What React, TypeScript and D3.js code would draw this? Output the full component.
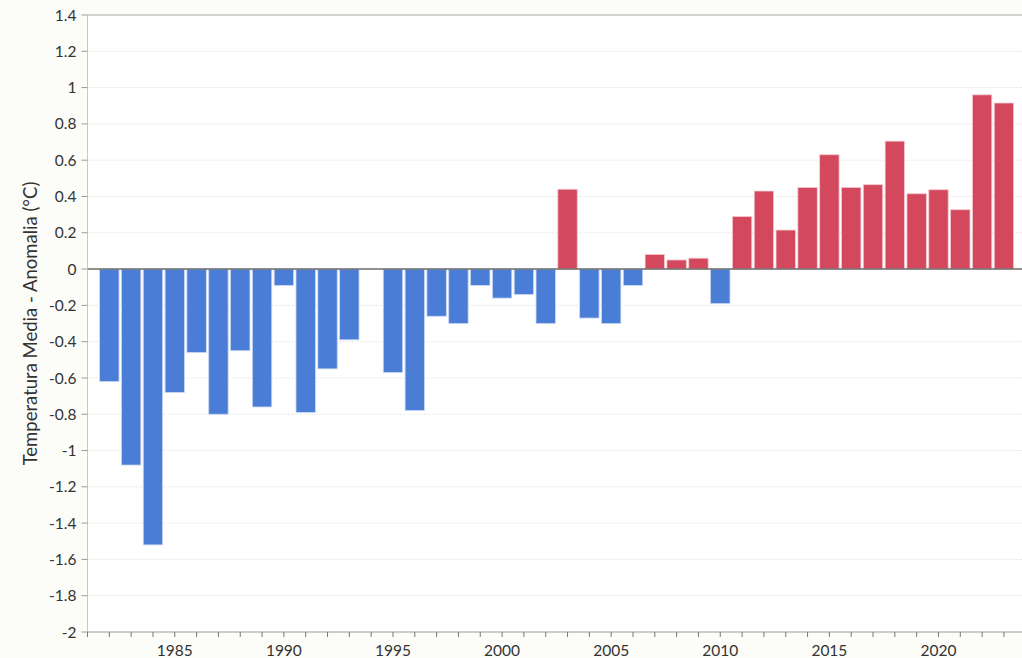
import React from "react";
import * as d3 from "d3";

const years: number[] = [
  1982, 1983, 1984, 1985, 1986, 1987, 1988, 1989, 1990, 1991, 1992, 1993,
  1995, 1996, 1997, 1998, 1999, 2000, 2001, 2002, 2003, 2004, 2005, 2006,
  2007, 2008, 2009, 2010, 2011, 2012, 2013, 2014, 2015, 2016, 2017, 2018,
  2019, 2020, 2021, 2022, 2023,
];
const anomalies: number[] = [
  -0.62, -1.08, -1.52, -0.68, -0.46, -0.8, -0.45, -0.76, -0.09, -0.79, -0.55, -0.39,
  -0.57, -0.78, -0.26, -0.3, -0.09, -0.16, -0.14, -0.3, 0.44, -0.27, -0.3, -0.09,
  0.08, 0.05, 0.06, -0.19, 0.29, 0.43, 0.215, 0.45, 0.63, 0.45, 0.465, 0.705,
  0.415, 0.437, 0.327, 0.96, 0.915,
];
const yTicks: number[] = [1.4, 1.2, 1, 0.8, 0.6, 0.4, 0.2, 0, -0.2, -0.4, -0.6, -0.8, -1, -1.2, -1.4, -1.6, -1.8, -2];
const xLabelYears: number[] = [1985, 1990, 1995, 2000, 2005, 2010, 2015, 2020];
const xTickYears: number[] = d3.range(1981, 2025);
const yTitle = "Temperatura Media - Anomalia (°C)";

const W = 1022;
const H = 658;
const left = 87.5;
const top = 15;
const bottom = 632;
const yearStep = 21.82;

export default function App() {
  const x = d3.scaleLinear().domain([1981, 2024]).range([left, left + 43 * yearStep]);
  const y = d3.scaleLinear().domain([-2, 1.4]).range([bottom, top]);
  const barW = 19.4;
  const font = "Lato, 'Open Sans', sans-serif";
  const fmt = (v: number) => String(Math.round(v * 10) / 10);

  return (
    <svg
      width={W}
      height={H}
      style={{ position: "absolute", left: 0, top: 0, background: "#fcfcf9" }}
      fontFamily={font}
    >
      <rect x={left} y={top} width={W - left} height={bottom - top} fill="#ffffff" />
      {yTicks.map((t) =>
        t === 1.4 || t === 0 || t === -2 ? null : (
          <line
            key={"g" + t}
            x1={left}
            x2={W}
            y1={y(t)}
            y2={y(t)}
            stroke="#e3e3e3"
            strokeWidth={1}
            strokeDasharray="2,2"
          />
        )
      )}
      <line x1={left} x2={W} y1={y(1.4)} y2={y(1.4)} stroke="#c4c4c4" strokeWidth={1.5} />
      {years.map((yr, i) => {
        const v = anomalies[i];
        const y0 = y(0);
        const y1 = y(v);
        return (
          <rect
            key={yr}
            x={x(yr) - barW / 2}
            y={Math.min(y0, y1)}
            width={barW}
            height={Math.abs(y1 - y0)}
            fill={v >= 0 ? "#d4485e" : "#4a7dd6"}
            stroke={v >= 0 ? "#f3c9d0" : "#c9d8f3"}
            strokeWidth={0.8}
          />
        );
      })}
      <line x1={left} x2={W} y1={y(0)} y2={y(0)} stroke="#6b6b6b" strokeWidth={1.5} />
      {/* y axis */}
      <line x1={left} x2={left} y1={top} y2={bottom} stroke="#c8c8c8" strokeWidth={1} />
      {yTicks.map((t) => (
        <g key={"yt" + t}>
          <line x1={left - 6} x2={left} y1={y(t)} y2={y(t)} stroke="#9a9a9a" strokeWidth={1} />
          <text
            x={left - 11}
            y={y(t)}
            dy="0.36em"
            textAnchor="end"
            fontSize={15.5}
            fill="#333333"
          >
            {fmt(t)}
          </text>
        </g>
      ))}
      {/* x axis */}
      <line x1={left} x2={W} y1={bottom} y2={bottom} stroke="#9a9a9a" strokeWidth={1} />
      {xTickYears.map((yr) => (
        <line key={"xt" + yr} x1={x(yr)} x2={x(yr)} y1={bottom} y2={bottom + 5} stroke="#777777" strokeWidth={1} />
      ))}
      {xLabelYears.map((yr) => (
        <text key={"xl" + yr} x={x(yr)} y={bottom + 23.5} textAnchor="middle" fontSize={15.5} fill="#333333">
          {yr}
        </text>
      ))}
      <text
        transform={`translate(37, ${(top + bottom) / 2}) rotate(-90)`}
        textAnchor="middle"
        fontSize={18.5}
        fill="#333333"
      >
        {yTitle}
      </text>
    </svg>
  );
}
